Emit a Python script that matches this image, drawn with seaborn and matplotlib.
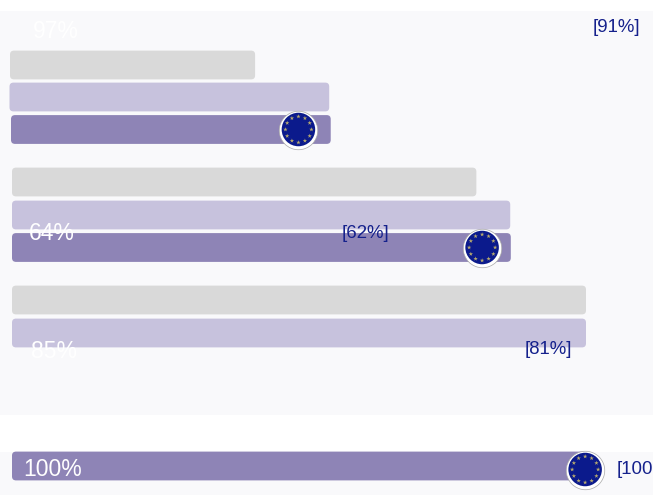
import numpy as np
import pandas as pd
import matplotlib
matplotlib.use("Agg")
import matplotlib.pyplot as plt
from matplotlib.patches import FancyBboxPatch, Rectangle
import seaborn as sns

# --- data ---
row_names = ["a1", "a2", "a3", "b1", "b2", "b3", "c1", "c2", "d1"]
row_series = ["grey", "light", "dark", "grey", "light", "dark", "grey", "light", "dark"]
row_values = [42.7, 55.7, 55.7, 80.9, 86.8, 86.9, 100.0, 100.0, 100.0]
flag_rows = ["a3", "b3", "d1"]
flag_values = [49.9, 81.9, 99.85]
white_labels = ["97%", "64%", "85%", "100%"]
blue_labels = ["[91%]", "[62%]", "[81%]", "[100%]"]

# --- layout ---
W, H = 653, 495
ROW_Y = dict(zip(row_names, [65, 97, 129.5, 182, 215, 247.5, 300, 333, 466]))
ROW_DX = [-2, -2.5, -1, 0, 0, 0, 0, 0, 0]
FLAG_DY = [0, 0, 3.5]
WHITE_POS = [(55.5, 31), (52, 233.5), (54, 351), (53, 469.5)]
BLUE_POS = [(616, 27), (365.5, 233), (548, 349), (617, 469)]
X0, PX_PER_UNIT = 12, 5.74
COLORS = {"grey": "#d9d9d9", "light": "#c7c2dd", "dark": "#8e84b6"}

sns.set_theme(style="white")
plt.rcParams["font.family"] = ["Liberation Sans", "DejaVu Sans"]

fig = plt.figure(figsize=(W / 100, H / 100), dpi=100, facecolor="white")
ax = fig.add_axes([0, 0, 1, 1])

df = pd.DataFrame({"row": row_names, "value": row_values, "series": row_series})
df["y"] = df["row"].map(ROW_Y)
sns.barplot(data=df, x="value", y="y", hue="series", palette=COLORS, orient="h",
            native_scale=True, dodge=False, legend=False, width=0.9, saturation=1,
            ax=ax, zorder=2)

ax.set_xlim(-X0 / PX_PER_UNIT, (W - X0) / PX_PER_UNIT)
ax.set_ylim(H, 0)
ax.axis("off")
to_x = lambda px: (px - X0) / PX_PER_UNIT

# panels behind the bars
ax.add_patch(Rectangle((to_x(0), 11), W / PX_PER_UNIT, 404, fc="#f9f9fb", ec="none", zorder=0))
ax.add_patch(Rectangle((to_x(0), 452), W / PX_PER_UNIT, 43, fc="#f9f9fb", ec="none", zorder=0))

# rounded bars built from the geometry seaborn computed
bars = sorted([p for p in ax.patches if p.get_width() > 0 and p.get_height() < 40 and p.get_zorder() == 2],
              key=lambda p: p.get_y())
trans = matplotlib.transforms.Affine2D().scale(1, -1).translate(0, H)
for bar, dx in zip(bars, ROW_DX):
    px_w = bar.get_width() * PX_PER_UNIT
    xp = X0 + dx
    yp = bar.get_y()
    hp = bar.get_height()
    r = 4
    rb = FancyBboxPatch((xp + r, yp + r), px_w - 2 * r, hp - 2 * r,
                        boxstyle=f"round,pad={r},rounding_size={r}",
                        fc=bar.get_facecolor(), ec="none", transform=trans, zorder=2)
    ax.add_patch(rb)
    bar.set_visible(False)

# EU flag markers
n = 12
angles = np.deg2rad(np.arange(n) * 360 / n)
for row, v, dy in zip(flag_rows, flag_values, FLAG_DY):
    y = ROW_Y[row] + dy
    ax.scatter([v], [y], s=(38.5 * 0.72) ** 2, c="white", edgecolors="#a8a8a8", linewidths=0.5, zorder=4)
    ax.scatter([v], [y], s=(33.5 * 0.72) ** 2, c="#0b1a8c", edgecolors="none", zorder=5)
    ax.scatter(v + 13 * np.cos(angles) / PX_PER_UNIT, y + 13 * np.sin(angles),
               s=11, marker="*", c="#b8ab6e", edgecolors="none", zorder=6)

# labels
for t, (x, y) in zip(white_labels, WHITE_POS):
    ax.text(to_x(x), y, t, color="white", fontsize=16.5, ha="center", va="center", zorder=7)
for t, (x, y) in zip(blue_labels, BLUE_POS):
    ha = "left" if t == "[100%]" else "center"
    ax.text(to_x(x), y, t, color="#15218c", fontsize=13.4, ha=ha, va="center", zorder=7)

fig.savefig("out.png", dpi=100)
